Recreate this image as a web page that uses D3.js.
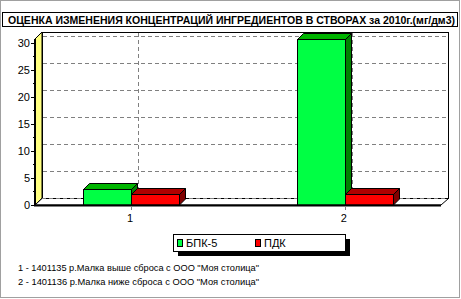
<!DOCTYPE html>
<html lang="ru">
<head>
<meta charset="utf-8">
<title>Оценка изменения концентраций</title>
<script src="https://d3js.org/d3.v7.min.js"></script>
<style>
  body { margin: 0; background: #fff; }
  text { font-family: "Liberation Sans", Arial, sans-serif; }
</style>
</head>
<body>
<script>
// data
const categories = ['1', '2'];
const seriesNames = ['БПК-5', 'ПДК'];
const bpk5 = [3.0, 30.7];
const pdk = [2.0, 2.0];
const yTicks = [0, 5, 10, 15, 20, 25, 30];
const notes = [
  '1 - 1401135 р.Малка выше сброса с ООО "Моя столица"',
  '2 - 1401136 р.Малка ниже сброса с ООО "Моя столица"'
];
const title = 'ОЦЕНКА ИЗМЕНЕНИЯ КОНЦЕНТРАЦИЙ ИНГРЕДИЕНТОВ В СТВОРАХ за 2010г.(мг/дм3)';

const W = 461, H = 299;
const front = { left: 35, right: 441, bottom: 205, top: 39 };
const wallD = 7, barD = 6, barW = 48;

const colors = {
  'БПК-5': { front: '#00ff44', top: '#00b400', side: '#008000' },
  'ПДК':   { front: '#ff0000', top: '#b00000', side: '#800000' }
};

const svg = d3.select('body').append('svg')
    .attr('width', W).attr('height', H);

// outer frame
svg.append('rect')
    .attr('x', 0.5).attr('y', 0.5).attr('width', 459).attr('height', 297)
    .attr('fill', '#fff').attr('stroke', '#a0a0a0');

// title box
svg.append('rect')
    .attr('x', 2.5).attr('y', 12.5).attr('width', 455).attr('height', 14)
    .attr('fill', '#fff').attr('stroke', '#000');
svg.append('text')
    .attr('x', 8).attr('y', 23.5)
    .attr('font-size', 10).attr('font-weight', 'bold')
    .attr('textLength', 447).attr('lengthAdjust', 'spacingAndGlyphs')
    .text(title);

const y = d3.scaleLinear().domain([0, d3.max(bpk5)]).range([front.bottom, front.top]);
const x = d3.scalePoint().domain(categories).range([front.left, front.right]).padding(0.45);

const g = svg.append('g');

// back wall
const bw = { x0: front.left + wallD, x1: front.right + wallD, y0: front.top - wallD, y1: front.bottom - wallD };
g.append('rect')
    .attr('x', bw.x0 + 0.5).attr('y', bw.y0 + 0.5)
    .attr('width', bw.x1 - bw.x0).attr('height', bw.y1 - bw.y0)
    .attr('fill', '#fff').attr('stroke', '#000');

// grid lines on back wall
g.selectAll('.hgrid').data(yTicks).join('line')
    .attr('x1', bw.x0 + 1).attr('x2', bw.x1)
    .attr('y1', d => Math.round(y(d) - wallD) + 0.5).attr('y2', d => Math.round(y(d) - wallD) + 0.5)
    .attr('stroke', '#808080').attr('stroke-dasharray', '4,3');
g.selectAll('.vgrid').data(categories).join('line')
    .attr('x1', d => Math.round(x(d) + wallD) + 0.5).attr('x2', d => Math.round(x(d) + wallD) + 0.5)
    .attr('y1', bw.y0 + 1).attr('y2', bw.y1)
    .attr('stroke', '#808080').attr('stroke-dasharray', '4,3');

// side wall (yellow)
g.append('polygon')
    .attr('points', [[front.left, front.top], [bw.x0, bw.y0], [bw.x0, bw.y1], [front.left, front.bottom]].join(' '))
    .attr('fill', '#ffff80').attr('stroke', '#000');

// floor
g.append('polygon')
    .attr('points', [[front.left, front.bottom], [bw.x0, bw.y1 + 0.5], [bw.x1 + 0.5, bw.y1 + 0.5], [front.right, front.bottom]].join(' '))
    .attr('fill', '#fff').attr('stroke', '#000');
g.append('line')
    .attr('x1', bw.x0).attr('x2', bw.x1)
    .attr('y1', bw.y1 + 0.5).attr('y2', bw.y1 + 0.5)
    .attr('stroke', '#808080').attr('stroke-dasharray', '4,3');

// bars
const series = [
  { name: seriesNames[0], values: bpk5, off: -barW },
  { name: seriesNames[1], values: pdk, off: 0 }
];
series.forEach(s => {
  const c = colors[s.name];
  s.values.forEach((v, i) => {
    const x0 = Math.round(x(categories[i]) + s.off) + 0.5;
    const x1 = x0 + barW;
    const yt = Math.round(y(v)) + 0.5;
    const yb = front.bottom;
    const bar = g.append('g');
    bar.append('polygon')
        .attr('points', [[x0, yt], [x0 + barD, yt - barD], [x1 + barD, yt - barD], [x1, yt]].join(' '))
        .attr('fill', c.top).attr('stroke', '#000');
    bar.append('polygon')
        .attr('points', [[x1, yt], [x1 + barD, yt - barD], [x1 + barD, yb - barD], [x1, yb]].join(' '))
        .attr('fill', c.side).attr('stroke', '#000');
    bar.append('rect')
        .attr('x', x0).attr('y', yt).attr('width', barW).attr('height', yb - yt)
        .attr('fill', c.front).attr('stroke', '#000');
  });
});

// front axis lines (thick)
g.append('line')
    .attr('x1', front.left - 1).attr('x2', front.right)
    .attr('y1', front.bottom + 0.5).attr('y2', front.bottom + 0.5)
    .attr('stroke', '#000').attr('stroke-width', 2);
g.append('line')
    .attr('x1', front.left).attr('x2', front.left)
    .attr('y1', front.top).attr('y2', front.bottom)
    .attr('stroke', '#000').attr('stroke-width', 2);

// y ticks + labels
const minor = d3.range(0, 31, 2.5);
g.selectAll('.ytick').data(minor).join('line')
    .attr('x1', d => d % 5 === 0 ? front.left - 4 : front.left - 2).attr('x2', front.left)
    .attr('y1', d => Math.round(y(d)) + 0.5).attr('y2', d => Math.round(y(d)) + 0.5)
    .attr('stroke', '#000');
g.selectAll('.ylab').data(yTicks).join('text')
    .attr('x', front.left - 5).attr('y', d => y(d) + 4)
    .attr('text-anchor', 'end').attr('font-size', 11)
    .text(d => d);

// x ticks + labels
g.selectAll('.xtick').data(categories).join('line')
    .attr('x1', d => Math.round(x(d)) + 0.5).attr('x2', d => Math.round(x(d)) + 0.5)
    .attr('y1', front.bottom + 1).attr('y2', front.bottom + 5)
    .attr('stroke', '#808080');
g.selectAll('.xlab').data(categories).join('text')
    .attr('x', d => x(d) - 1).attr('y', front.bottom + 17)
    .attr('text-anchor', 'middle').attr('font-size', 11)
    .text(d => d);

// legend
const lg = svg.append('g').attr('transform', 'translate(173,234)');
lg.append('rect').attr('x', 5).attr('y', 5).attr('width', 172).attr('height', 17).attr('fill', '#000');
lg.append('rect').attr('x', 0.5).attr('y', 0.5).attr('width', 172).attr('height', 17)
    .attr('fill', '#fff').attr('stroke', '#000');
seriesNames.forEach((n, i) => {
  const lx = 4 + i * 78;
  lg.append('rect').attr('x', lx + 0.5).attr('y', 5.5).attr('width', 5).attr('height', 7)
      .attr('fill', colors[n].front).attr('stroke', '#000');
  lg.append('text').attr('x', lx + 9).attr('y', 13).attr('font-size', 11).text(n);
});

// notes
svg.selectAll('.note').data(notes).join('text')
    .attr('x', 18).attr('y', (d, i) => 271 + i * 14)
    .attr('font-size', 9.5)
    .attr('textLength', 241).attr('lengthAdjust', 'spacingAndGlyphs')
    .text(d => d);
</script>
</body>
</html>
